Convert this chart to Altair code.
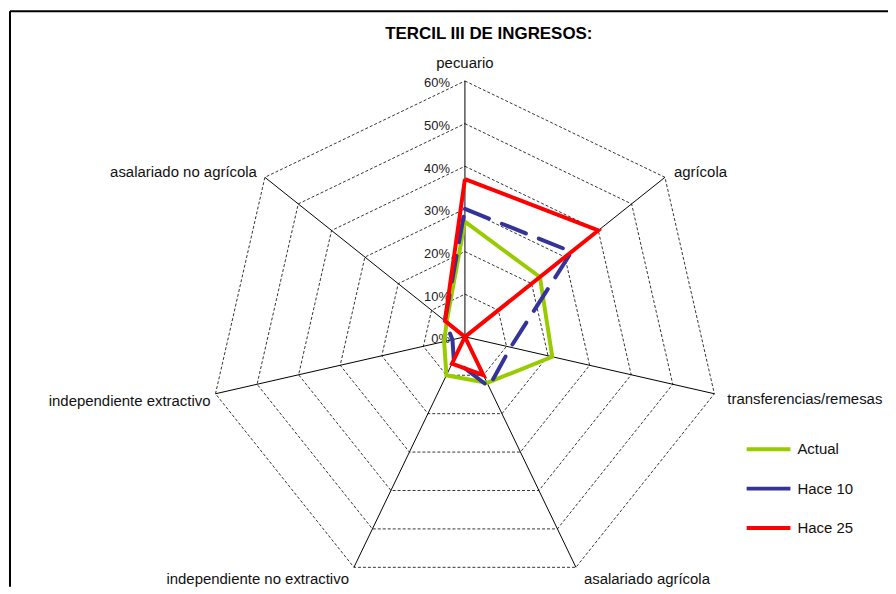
import altair as alt
import pandas as pd

# ---------------- data ----------------
categories = [
    "pecuario",
    "agrícola",
    "transferencias/remesas",
    "asalariado agrícola",
    "independiente no extractivo",
    "independiente extractivo",
    "asalariado no agrícola",
]
actual = [0.27, 0.225, 0.21, 0.12, 0.10, 0.05, 0.055]
hace10 = [0.30, 0.32, 0.11, 0.13, 0.06, 0.03, 0.06]
hace25 = [0.37, 0.40, 0.00, 0.10, 0.07, 0.00, 0.06]
series_names = ["Actual", "Hace 10", "Hace 25"]
series_colors = ["#99CC00", "#333399", "#FF0000"]
tick_values = [0.0, 0.1, 0.2, 0.3, 0.4, 0.5, 0.6]
tick_labels = ["0%", "10%", "20%", "30%", "40%", "50%", "60%"]
title_text = ["TERCIL III DE INGRESOS:"]

# ---------------- layout ----------------
W, H = 884, 580
CX, CY = 459, 329
PPU = 257 / 0.6
xs = alt.Scale(domain=[-CX / PPU, (W - CX) / PPU], nice=False, zero=False)
ys = alt.Scale(domain=[-(H - CY) / PPU, CY / PPU], nice=False, zero=False)
N = len(categories)
ANG = f"datum.k*2*PI/{N}"
FONT = "Liberation Sans"

X = alt.X("px:Q", scale=xs, axis=None)
Y = alt.Y("py:Q", scale=ys, axis=None)

# grid polygons
grid_df = pd.DataFrame(
    [{"level": lv, "k": k} for lv in tick_values[1:] for k in range(N + 1)]
)
grid = (
    alt.Chart(grid_df)
    .transform_calculate(px=f"datum.level*sin({ANG})", py=f"datum.level*cos({ANG})")
    .mark_line(color="black", strokeWidth=0.8, strokeDash=[3, 2])
    .encode(x=X, y=Y, detail="level:N", order="k:Q")
)

# spokes
spoke_df = pd.DataFrame({"k": list(range(N)), "r": [max(tick_values)] * N})
spokes = (
    alt.Chart(spoke_df)
    .transform_calculate(
        px="0", py="0", px2=f"datum.r*sin({ANG})", py2=f"datum.r*cos({ANG})"
    )
    .mark_rule(color="black", strokeWidth=1)
    .encode(x=X, y=Y, x2="px2:Q", y2="py2:Q")
)

# tick labels along the first axis
tick_df = pd.DataFrame({"v": tick_values, "label": tick_labels})
ticks = (
    alt.Chart(tick_df)
    .transform_calculate(px="0", py="datum.v")
    .mark_text(align="right", baseline="middle", dx=-15, dy=2.5, fontSize=13,
               font=FONT, color="#222222")
    .encode(x=X, y=Y, text="label:N")
)

# category labels
lab_df = pd.DataFrame({"k": list(range(N)), "cat": categories})
lab_style = [
    dict(align="center", dx=0, dy=-18),
    dict(align="left", dx=9, dy=-5),
    dict(align="left", dx=13, dy=5),
    dict(align="left", dx=8, dy=12),
    dict(align="right", dx=-5, dy=12),
    dict(align="right", dx=-5, dy=7),
    dict(align="right", dx=-8, dy=-5),
]
r_lab = max(tick_values)
label_layers = []
for i, st in enumerate(lab_style):
    label_layers.append(
        alt.Chart(lab_df)
        .transform_filter(f"datum.k == {i}")
        .transform_calculate(px=f"{r_lab}*sin({ANG})", py=f"{r_lab}*cos({ANG})")
        .mark_text(baseline="middle", fontSize=15, font=FONT, color="#111111", **st)
        .encode(x=X, y=Y, text="cat:N")
    )

# series
rows = []
for name, vals in zip(series_names, [actual, hace10, hace25]):
    for k in range(N + 1):
        rows.append({"series": name, "k": k, "value": vals[k % N]})
ser_df = pd.DataFrame(rows)

color = alt.Color(
    "series:N",
    scale=alt.Scale(domain=series_names, range=series_colors),
    legend=alt.Legend(
        title=None,
        orient="none",
        legendX=740,
        legendY=418,
        symbolType="stroke",
        symbolSize=1936,
        symbolStrokeWidth=4,
        labelFontSize=15,
        labelFont=FONT,
        labelColor="#111111",
        labelOffset=5,
        rowPadding=7.5,
        padding=0,
    ),
)

series_layers = []
for name in series_names:
    extra = {}
    if name == "Hace 10":
        extra = dict(strokeDash=[26, 14], strokeCap="round")
    series_layers.append(
        alt.Chart(ser_df)
        .transform_filter(alt.datum.series == name)
        .transform_calculate(px=f"datum.value*sin({ANG})", py=f"datum.value*cos({ANG})")
        .mark_line(strokeWidth=4, strokeJoin="miter", **extra)
        .encode(x=X, y=Y, color=color, order="k:Q")
    )

# title
title = (
    alt.Chart(pd.DataFrame({"t": title_text}))
    .mark_text(fontSize=17, fontWeight="bold", font=FONT, color="black",
               align="center", baseline="middle")
    .encode(x=alt.value(483), y=alt.value(25), text="t:N")
)

# frame (left and top edges visible)
one = pd.DataFrame({"a": [0]})
frame_l = alt.Chart(one).mark_rule(color="black", strokeWidth=2).encode(
    x=alt.value(2), y=alt.value(2), y2=alt.value(H)
)
frame_t = alt.Chart(one).mark_rule(color="black", strokeWidth=2).encode(
    x=alt.value(2), x2=alt.value(W), y=alt.value(2)
)

chart = (
    alt.layer(grid, spokes, ticks, *label_layers, *series_layers, title, frame_l, frame_t)
    .properties(width=W, height=H, autosize=alt.AutoSizeParams(type="none"), padding=0)
    .configure_view(stroke=None)
)

chart.save("out.html", embed_options={"renderer": "svg", "actions": False})
